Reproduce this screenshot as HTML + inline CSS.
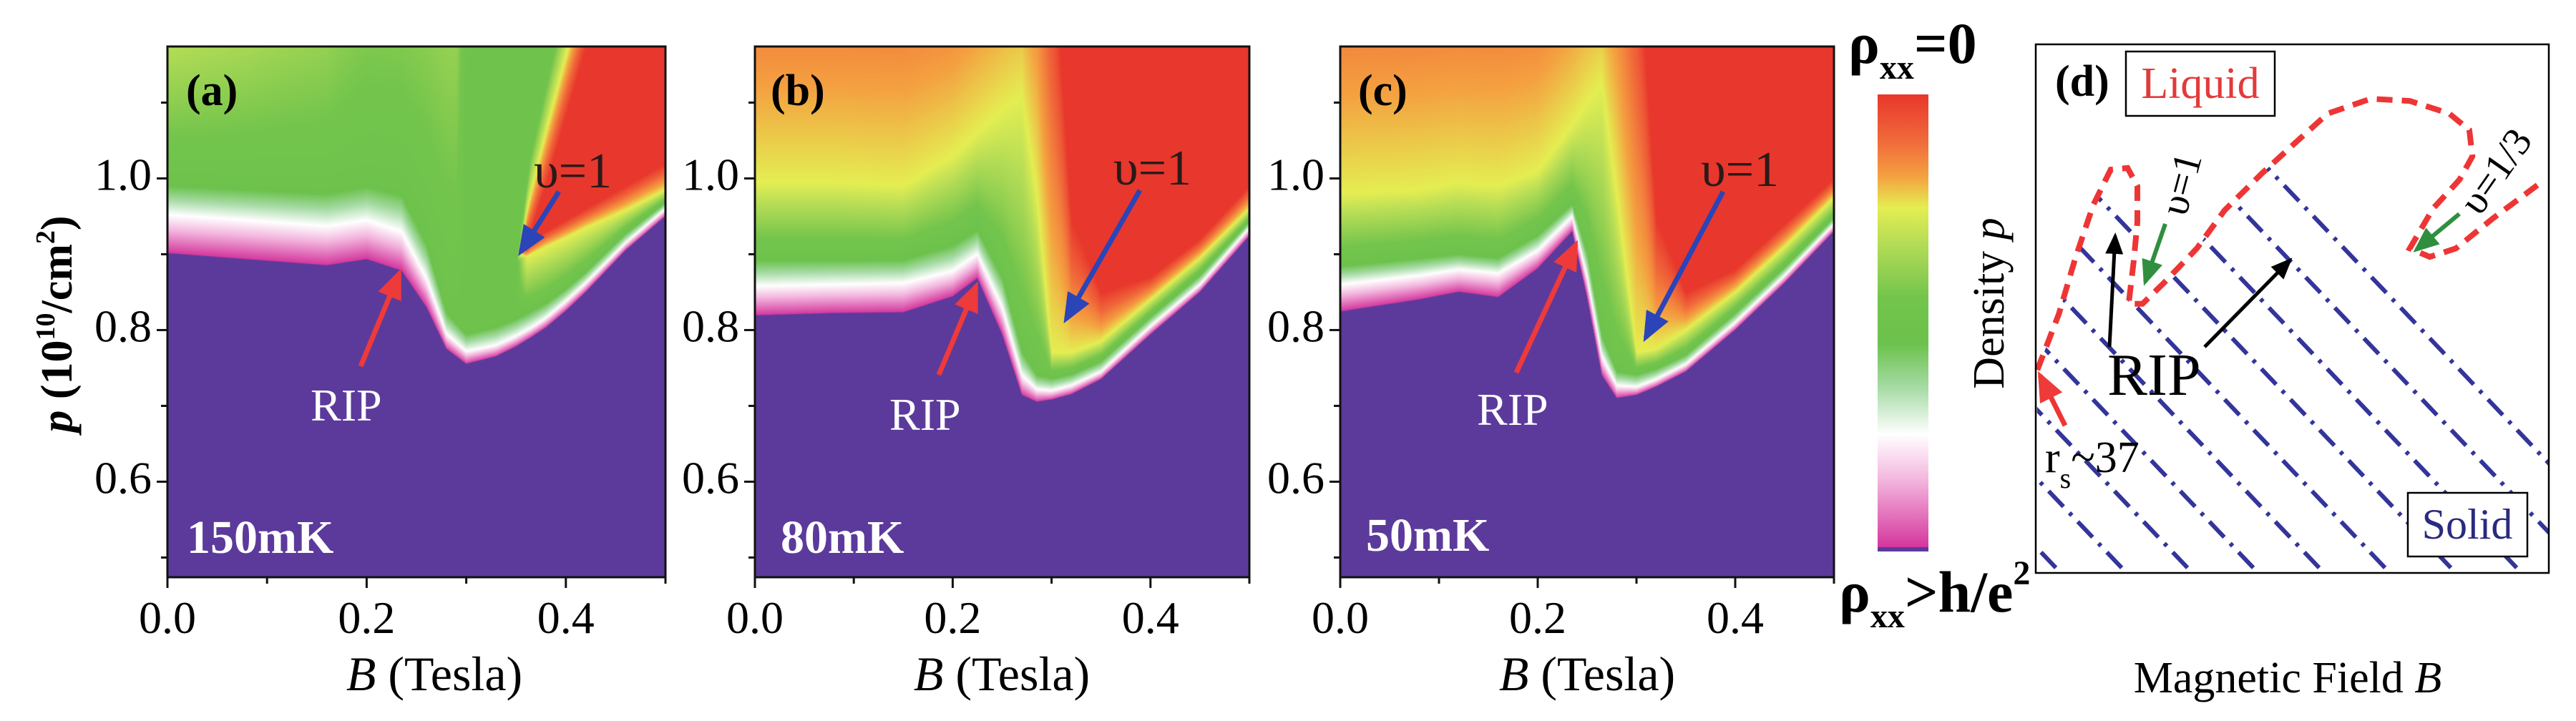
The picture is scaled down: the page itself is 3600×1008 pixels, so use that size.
<!DOCTYPE html>
<html><head><meta charset="utf-8">
<style>
html,body{margin:0;padding:0;background:#fff;}
#root{position:relative;width:3600px;height:1008px;overflow:hidden;background:#fff;}
canvas{position:absolute;}
svg{position:absolute;left:0;top:0;font-family:"Liberation Serif","DejaVu Serif","Noto Serif CJK SC",serif;}
svg text{font-family:"Liberation Serif","DejaVu Serif","Noto Serif CJK SC",serif;}
</style></head>
<body>
<div id="root">
<canvas id="cvA" style="left:234px;top:65px" width="696" height="742"></canvas>
<canvas id="cvB" style="left:1055px;top:65px" width="691" height="742"></canvas>
<canvas id="cvC" style="left:1873px;top:65px" width="690" height="742"></canvas>
<svg id="ov" width="3600" height="1008" viewBox="0 0 3600 1008" font-family="'Liberation Serif', 'Noto Serif CJK SC', serif">
<defs>
<linearGradient id="cbar" x1="0" y1="0" x2="0" y2="1">
<stop offset="0" stop-color="#e8372c"/><stop offset="0.1" stop-color="#f0683a"/><stop offset="0.18" stop-color="#f4a040"/>
<stop offset="0.25" stop-color="#e4ee52"/><stop offset="0.33" stop-color="#b4dc56"/><stop offset="0.45" stop-color="#72c44c"/>
<stop offset="0.55" stop-color="#6cc24c"/><stop offset="0.65" stop-color="#a8dca8"/><stop offset="0.75" stop-color="#ffffff"/>
<stop offset="0.85" stop-color="#f3b6de"/><stop offset="1" stop-color="#d4359c"/>
</linearGradient>
<marker id="mBlue" markerWidth="6" markerHeight="6" refX="5" refY="3" orient="auto" markerUnits="strokeWidth"><path d="M0,0.5 L6,3 L0,5.5 Z" fill="#2b44b8"/></marker>
<marker id="mRed" markerWidth="6" markerHeight="6" refX="5" refY="3" orient="auto" markerUnits="strokeWidth"><path d="M0,0.5 L6,3 L0,5.5 Z" fill="#ee3a3a"/></marker>
<marker id="mGreen" markerWidth="6" markerHeight="6" refX="5" refY="3" orient="auto" markerUnits="strokeWidth"><path d="M0,0.5 L6,3 L0,5.5 Z" fill="#2f8f3f"/></marker>
<marker id="mBlack" markerWidth="6" markerHeight="6" refX="5" refY="3" orient="auto" markerUnits="strokeWidth"><path d="M0,0.5 L6,3 L0,5.5 Z" fill="#000"/></marker>
<clipPath id="solidClip"><path id="solidPoly" d=""/></clipPath>
</defs>
<g id="axes"></g>

<text x="260" y="147" font-size="62" font-weight="bold">(a)</text>
<text x="746" y="262" font-size="70" fill="#2a1a1a">υ=1</text>
<line x1="781" y1="268" x2="728" y2="352" stroke="#2b44b8" stroke-width="7" marker-end="url(#mBlue)"/>
<text x="434" y="588" font-size="64" fill="#fff">RIP</text>
<line x1="504" y1="512" x2="558" y2="382" stroke="#ee3a3a" stroke-width="7" marker-end="url(#mRed)"/>
<text x="261" y="773" font-size="66" font-weight="bold" fill="#fff">150mK</text>

<text x="1077" y="147" font-size="62" font-weight="bold">(b)</text>
<text x="1556" y="258" font-size="70" fill="#2a1a1a">υ=1</text>
<line x1="1593" y1="266" x2="1490" y2="446" stroke="#2b44b8" stroke-width="7" marker-end="url(#mBlue)"/>
<text x="1243" y="601" font-size="64" fill="#fff">RIP</text>
<line x1="1312" y1="524" x2="1364" y2="400" stroke="#ee3a3a" stroke-width="7" marker-end="url(#mRed)"/>
<text x="1091" y="773" font-size="66" font-weight="bold" fill="#fff">80mK</text>

<text x="1898" y="147" font-size="62" font-weight="bold">(c)</text>
<text x="2377" y="260" font-size="70" fill="#2a1a1a">υ=1</text>
<line x1="2408" y1="268" x2="2300" y2="472" stroke="#2b44b8" stroke-width="7" marker-end="url(#mBlue)"/>
<text x="2064" y="594" font-size="64" fill="#fff">RIP</text>
<line x1="2119" y1="521" x2="2202" y2="342" stroke="#ee3a3a" stroke-width="7" marker-end="url(#mRed)"/>
<text x="1909" y="770" font-size="66" font-weight="bold" fill="#fff">50mK</text>

<text transform="translate(100,453) rotate(-90)" text-anchor="middle" font-size="62" font-weight="bold"><tspan font-style="italic">p</tspan> (10<tspan font-size="38" dy="-24">10</tspan><tspan dy="24">/cm</tspan><tspan font-size="38" dy="-24">2</tspan><tspan dy="24">)</tspan></text>
<text x="607" y="965" text-anchor="middle" font-size="68"><tspan font-style="italic">B</tspan> (Tesla)</text>
<text x="1400" y="965" text-anchor="middle" font-size="68"><tspan font-style="italic">B</tspan> (Tesla)</text>
<text x="2218" y="965" text-anchor="middle" font-size="68"><tspan font-style="italic">B</tspan> (Tesla)</text>

<rect x="2624" y="132" width="71" height="634" fill="url(#cbar)"/>
<rect x="2624" y="765" width="71" height="6" fill="#5c3a9c"/>
<text x="2583" y="88" font-size="82" font-weight="bold">ρ<tspan font-size="48" dy="22">xx</tspan><tspan dy="-22">=0</tspan></text>
<text x="2570" y="855" font-size="82" font-weight="bold">ρ<tspan font-size="48" dy="22">xx</tspan><tspan dy="-22">&gt;h/e</tspan><tspan font-size="48" dy="-38">2</tspan></text>

<g id="dlines" clip-path="url(#solidClip)"></g>
<path id="redBoundary" d="" fill="none" stroke="#ee3535" stroke-width="8" stroke-dasharray="22 13"/>
<rect x="2845" y="62" width="717" height="739" fill="none" stroke="#000" stroke-width="2.5"/>
<text x="2872" y="134" font-size="62" font-weight="bold">(d)</text>
<rect x="2971" y="72" width="208" height="90" fill="#fff" stroke="#000" stroke-width="2.5"/>
<text x="3075" y="137" text-anchor="middle" font-size="62" fill="#e33a3a">Liquid</text>
<rect x="3365" y="689" width="167" height="89" fill="#fff" stroke="#000" stroke-width="2.5"/>
<text x="3448" y="753" text-anchor="middle" font-size="60" fill="#2a2a80">Solid</text>
<text transform="translate(3066,262) rotate(-75)" text-anchor="middle" font-size="56">υ=1</text>
<line x1="3026" y1="313" x2="2998" y2="394" stroke="#2f8f3f" stroke-width="6" marker-end="url(#mGreen)"/>
<text transform="translate(3503,250) rotate(-55)" text-anchor="middle" font-size="56">υ=1/3</text>
<line x1="3437" y1="299" x2="3377" y2="349" stroke="#2f8f3f" stroke-width="6" marker-end="url(#mGreen)"/>
<line x1="2948" y1="485" x2="2956" y2="330" stroke="#000" stroke-width="5" marker-end="url(#mBlack)"/>
<line x1="3081" y1="485" x2="3200" y2="364" stroke="#000" stroke-width="5" marker-end="url(#mBlack)"/>
<text x="2945" y="552" font-size="84">RIP</text>
<line x1="2886" y1="595" x2="2851" y2="525" stroke="#ee3535" stroke-width="7" marker-end="url(#mRed)"/>
<text x="2858" y="660" font-size="62">r<tspan font-size="40" dy="22">s</tspan><tspan dy="-22">~37</tspan></text>
<text transform="translate(2800,424) rotate(-90)" text-anchor="middle" font-size="62">Density <tspan font-style="italic">p</tspan></text>
<text x="3197" y="968" text-anchor="middle" font-size="62">Magnetic Field <tspan font-style="italic">B</tspan></text>
</svg>
</div>
<script>
// knot colour positions (0 = red / rho=0, 1 = magenta edge)
const knotColors = [1.0, 0.75, 0.5, 0.25, 0.0, 0.0, 0.25, 0.5];
// Panel (a) 150 mK
const bColsA = [0,0.08,0.16,0.2,0.235,0.26,0.28,0.3,0.33,0.35,0.365,0.38,0.4,0.42,0.46,0.5];
const edgeA  = [0.901,0.893,0.885,0.893,0.878,0.83,0.775,0.755,0.765,0.778,0.79,0.803,0.825,0.85,0.905,0.95];
const whiteA = [0.952,0.945,0.937,0.945,0.93,0.868,0.795,0.772,0.78,0.792,0.803,0.816,0.838,0.862,0.915,0.96];
const greenA = [1.0,0.995,0.99,1.0,0.99,0.925,0.83,0.8,0.81,0.82,0.83,0.84,0.858,0.88,0.93,0.97];
const yellowA= [1.25,1.3,1.4,1.6,1.6,1.6,1.6,1.6,1.6,0.89,0.9,0.91,0.922,0.935,0.958,0.985];
const redA   = [1.3,1.35,1.45,1.65,1.65,1.65,1.65,1.6,1.6,0.89,0.915,0.93,0.945,0.96,0.99,1.02];
const redTopA= [1.35,1.4,1.5,1.7,1.7,1.7,1.7,1.6,1.6,0.89,0.93,0.99,1.08,1.17,1.4,1.4];
const yelTopA= [1.4,1.45,1.55,1.75,1.75,1.75,1.75,1.6,1.6,0.89,0.98,1.06,1.16,1.26,1.45,1.45];
const grnTopA= [1.45,1.5,1.6,1.8,1.8,1.8,1.8,1.6,1.6,0.89,1.04,1.13,1.25,1.36,1.5,1.5];
// Panel (b) 80 mK
const bColsB = [0,0.08,0.15,0.2,0.225,0.25,0.27,0.285,0.3,0.32,0.35,0.4,0.45,0.5];
const edgeB  = [0.819,0.822,0.823,0.844,0.868,0.794,0.714,0.705,0.708,0.715,0.735,0.794,0.85,0.924];
const whiteB = [0.858,0.86,0.862,0.878,0.9,0.83,0.74,0.722,0.72,0.727,0.745,0.805,0.86,0.935];
const greenB = [0.9,0.9,0.9,0.92,0.94,0.88,0.78,0.745,0.74,0.745,0.762,0.82,0.875,0.945];
const yellowB= [0.995,0.995,0.99,1.03,1.06,1.09,1.11,0.98,0.77,0.77,0.785,0.84,0.895,0.96];
const redB   = [1.45,1.45,1.45,1.45,1.5,1.55,1.6,1.6,1.35,0.95,0.85,0.87,0.92,0.99];
const redTopB= [1.7,1.7,1.7,1.7,1.7,1.7,1.7,1.7,1.7,1.7,1.7,1.7,1.7,1.7];
const yelTopB= [1.75,1.75,1.75,1.75,1.75,1.75,1.75,1.75,1.75,1.75,1.75,1.75,1.75,1.75];
const grnTopB= [1.8,1.8,1.8,1.8,1.8,1.8,1.8,1.8,1.8,1.8,1.8,1.8,1.8,1.8];
// Panel (c) 50 mK
const bColsC = [0,0.08,0.12,0.16,0.2,0.235,0.25,0.265,0.28,0.3,0.32,0.35,0.4,0.45,0.5];
const edgeC  = [0.824,0.84,0.85,0.843,0.881,0.93,0.843,0.74,0.71,0.714,0.725,0.745,0.80,0.862,0.93];
const whiteC = [0.86,0.872,0.88,0.875,0.905,0.95,0.87,0.765,0.727,0.725,0.735,0.755,0.81,0.872,0.94];
const greenC = [0.89,0.9,0.905,0.9,0.93,0.97,0.91,0.8,0.75,0.745,0.752,0.77,0.825,0.885,0.95];
const yellowC= [0.98,0.985,0.994,0.99,1.01,1.07,1.1,1.125,0.98,0.77,0.775,0.8,0.85,0.91,0.975];
const redC   = [1.45,1.45,1.45,1.45,1.45,1.5,1.55,1.6,1.6,1.35,0.95,0.85,0.88,0.94,1.0];
const redTopC= [1.7,1.7,1.7,1.7,1.7,1.7,1.7,1.7,1.7,1.7,1.7,1.7,1.7,1.7,1.7];
const yelTopC= [1.75,1.75,1.75,1.75,1.75,1.75,1.75,1.75,1.75,1.75,1.75,1.75,1.75,1.75,1.75];
const grnTopC= [1.8,1.8,1.8,1.8,1.8,1.8,1.8,1.8,1.8,1.8,1.8,1.8,1.8,1.8,1.8];
// axis ticks
const xMajorTicks = [0.0, 0.2, 0.4];
const xMajorLabels = ["0.0", "0.2", "0.4"];
const xMinorTicks = [0.1, 0.3, 0.5];
const yMajorTicks = [0.6, 0.8, 1.0];
const yMajorLabels = ["0.6", "0.8", "1.0"];
const yMinorTicks = [0.5, 0.7, 0.9, 1.1];
// panel (d) schematic boundary (B, p in 0..1 units of the box)
const boundaryB = [0.003,0.045,0.077,0.112,0.146,0.179,0.198,0.198,0.191,0.181,0.208,0.25,0.314,0.368,0.441,0.505,0.569,0.653,0.729,0.806,0.845,0.851,0.826,0.774,0.729,0.768,0.819,0.89,0.992];
const boundaryP = [0.384,0.49,0.595,0.696,0.763,0.766,0.732,0.664,0.59,0.509,0.509,0.549,0.614,0.686,0.756,0.813,0.869,0.897,0.893,0.869,0.838,0.788,0.744,0.689,0.614,0.598,0.614,0.67,0.744];

const PTOP = 1.174, PBOT = 0.474, BMAX = 0.5;
const stops = [[0,[232,55,44]],[0.1,[240,104,58]],[0.18,[244,160,64]],[0.25,[228,238,82]],[0.33,[180,220,86]],[0.45,[114,196,76]],[0.55,[108,194,76]],[0.65,[168,220,168]],[0.75,[255,255,255]],[0.85,[243,182,222]],[1.0,[212,53,156]]];
const PURPLE = [92,58,156];
function cmap(c){
  if(c<=0) return stops[0][1];
  if(c>=1) return stops[stops.length-1][1];
  for(let i=0;i<stops.length-1;i++){
    if(c<=stops[i+1][0]){const t=(c-stops[i][0])/(stops[i+1][0]-stops[i][0]);
      const a=stops[i][1],b=stops[i+1][1];return [a[0]+(b[0]-a[0])*t,a[1]+(b[1]-a[1])*t,a[2]+(b[2]-a[2])*t];}
  }
  return stops[stops.length-1][1];
}
function drawHeat(id, cols, levels){
  const cv=document.getElementById(id), ctx=cv.getContext('2d');
  const W=cv.width,H=cv.height, img=ctx.createImageData(W,H), d=img.data;
  const dp=(PTOP-PBOT)/H;
  for(let x=0;x<W;x++){
    const B=(x+0.5)/W*BMAX;
    let i=0; while(i<cols.length-2 && B>cols[i+1]) i++;
    let t=(B-cols[i])/(cols[i+1]-cols[i]); t=Math.max(0,Math.min(1,t));
    const kp=[]; let prev=-1;
    for(let k=0;k<levels.length;k++){let v=levels[k][i]+(levels[k][i+1]-levels[k][i])*t; if(v<prev) v=prev; kp.push(v); prev=v;}
    // wedge weight: fades the wedge when its thickness collapses
    const w=Math.max(0,Math.min(1,(kp[7]-kp[3])/0.1));
    for(let y=0;y<H;y++){
      const p=PTOP-(y+0.5)*dp;
      let col;
      if(p<kp[0]){col=PURPLE;}
      else{
        let c=knotColors[knotColors.length-1];
        for(let k=0;k<kp.length-1;k++){
          if(p<kp[k+1]){const s=(kp[k+1]-kp[k])>1e-9?(p-kp[k])/(kp[k+1]-kp[k]):1; c=knotColors[k]+(knotColors[k+1]-knotColors[k])*s; break;}
        }
        if(p>=kp[2] && c<0.5) c=0.5-(0.5-c)*w;
        col=cmap(c);
        const f=(p-kp[0])/dp;
        if(f<1.2){const a=f/1.2; col=[PURPLE[0]+(col[0]-PURPLE[0])*a,PURPLE[1]+(col[1]-PURPLE[1])*a,PURPLE[2]+(col[2]-PURPLE[2])*a];}
      }
      const o=(y*W+x)*4; d[o]=col[0];d[o+1]=col[1];d[o+2]=col[2];d[o+3]=255;
    }
  }
  ctx.putImageData(img,0,0);
}
drawHeat('cvA', bColsA, [edgeA,whiteA,greenA,yellowA,redA,redTopA,yelTopA,grnTopA]);
drawHeat('cvB', bColsB, [edgeB,whiteB,greenB,yellowB,redB,redTopB,yelTopB,grnTopB]);
drawHeat('cvC', bColsC, [edgeC,whiteC,greenC,yellowC,redC,redTopC,yelTopC,grnTopC]);

const NS='http://www.w3.org/2000/svg';
const axesG=document.getElementById('axes');
const panels=[{x0:234,x1:930,name:'a'},{x0:1055,x1:1746,name:'b'},{x0:1873,x1:2563,name:'c'}];
const Y0=65,Y1=807;
function yOf(p){return Y0+(PTOP-p)/(PTOP-PBOT)*(Y1-Y0);}
function mk(tag,attrs){const e=document.createElementNS(NS,tag);for(const k in attrs)e.setAttribute(k,attrs[k]);return e;}
panels.forEach(pn=>{
  const xOf=B=>pn.x0+B/BMAX*(pn.x1-pn.x0);
  const fr=mk('rect',{x:pn.x0,y:Y0,width:pn.x1-pn.x0,height:Y1-Y0,fill:'none',stroke:'#111','stroke-width':3});
  
  
  axesG.appendChild(fr);
  xMajorTicks.forEach((v,i)=>{
    const l=mk('line',{x1:xOf(v),x2:xOf(v),y1:Y1,y2:Y1+15,stroke:'#111','stroke-width':3});
    
    
    axesG.appendChild(l);
    const t=mk('text',{x:xOf(v),y:885,'text-anchor':'middle','font-size':64});
    
    
    t.textContent=xMajorLabels[i]; axesG.appendChild(t);
  });
  xMinorTicks.forEach(v=>{
    const l=mk('line',{x1:xOf(v),x2:xOf(v),y1:Y1,y2:Y1+9,stroke:'#111','stroke-width':3});
    
    
    axesG.appendChild(l);
  });
  yMajorTicks.forEach((v,i)=>{
    const l=mk('line',{x1:pn.x0-15,x2:pn.x0,y1:yOf(v),y2:yOf(v),stroke:'#111','stroke-width':3});
    
    
    axesG.appendChild(l);
    const t=mk('text',{x:pn.x0-22,y:yOf(v)+16,'text-anchor':'end','font-size':64});
    
    
    t.textContent=yMajorLabels[i]; axesG.appendChild(t);
  });
  yMinorTicks.forEach(v=>{
    const l=mk('line',{x1:pn.x0-9,x2:pn.x0,y1:yOf(v),y2:yOf(v),stroke:'#111','stroke-width':3});
    
    
    axesG.appendChild(l);
  });
});

const DX0=2845,DX1=3562,DY0=62,DY1=801;
const dx=b=>DX0+b*(DX1-DX0), dy=p=>DY1-p*(DY1-DY0);
let dstr='';
boundaryB.forEach((b,i)=>{dstr+=(i?' L':'M')+dx(b).toFixed(1)+','+dy(boundaryP[i]).toFixed(1);});
document.getElementById('redBoundary').setAttribute('d',dstr);
document.getElementById('solidPoly').setAttribute('d',dstr+' L'+DX1+',251 L'+DX1+','+DY1+' L'+DX0+','+DY1+' Z');
const dl=document.getElementById('dlines');
for(let k=-9;k<=9;k++){
  const xb=2880+k*92;
  const l=mk('line',{x1:xb-760,y1:DY1-1.05*760,x2:xb+60,y2:DY1+1.05*60,stroke:'#33359a','stroke-width':6,'stroke-dasharray':'30 12 5 12'});
  
  
  dl.appendChild(l);
}
</script>
</body></html>
